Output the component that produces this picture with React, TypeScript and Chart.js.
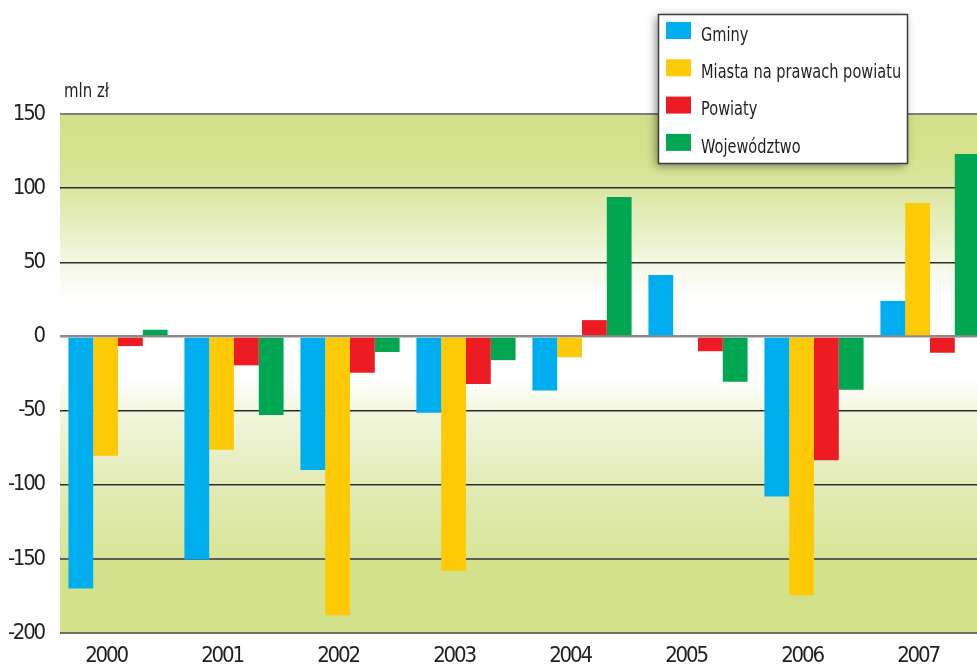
import React, { useEffect, useRef } from "react";
import { Chart, registerables } from "chart.js";

Chart.register(...registerables);

// ---- data ----
const years = ["2000", "2001", "2002", "2003", "2004", "2005", "2006", "2007"];
const seriesNames = ["Gminy", "Miasta na prawach powiatu", "Powiaty", "Województwo"];
const gminy = [-170, -150.5, -90, -51.5, -36.5, 41.5, -108, 24];
const miasta = [-80.5, -76.5, -188, -158, -14, 0, -174.5, 90];
const powiaty = [-6.5, -19.5, -24.5, -32, 11, -10, -83.5, -11];
const wojewodztwo = [4.5, -53, -10.5, -16, 94, -30.5, -36, 123];
const yMin = -200;
const yMax = 150;
const yStep = 50;
const unitLabel = "mln zł";

const seriesColors = ["#00aeef", "#fec907", "#ed1c24", "#00a651"];
const FONT = "'Liberation Sans Narrow', 'DejaVu Sans Condensed', 'Arial Narrow', sans-serif";
const TEXT = "#231f20";

const bgPlugin = {
  id: "bgGradient",
  beforeDraw(chart: any) {
    const { ctx, chartArea: a, scales } = chart;
    const y = scales.y;
    const g = ctx.createLinearGradient(0, a.top, 0, a.bottom);
    const stops: [number, string][] = [
      [150, "#d2e188"],
      [125, "#d4e28d"],
      [100, "#dae6a0"],
      [70, "#e9f0c8"],
      [45, "#f6f9ea"],
      [25, "#ffffff"],
      [-28, "#ffffff"],
      [-50, "#f2f6df"],
      [-100, "#e2ebb6"],
      [-148, "#d8e598"],
      [-152, "#d3e28a"],
      [-200, "#d3e28a"],
    ];
    const h = a.bottom - a.top;
    stops.forEach(([v, c]) => {
      const f = Math.min(1, Math.max(0, (y.getPixelForValue(v) - a.top) / h));
      g.addColorStop(f, c);
    });
    ctx.save();
    ctx.fillStyle = g;
    ctx.fillRect(a.left, a.top, a.right - a.left, h);
    ctx.restore();
    // condensed look for axis tick labels drawn by Chart.js
    (ctx as any).letterSpacing = "-2.2px";
  },
};

function drawNarrow(ctx: any, text: string, x: number, y: number, sx: number) {
  ctx.save();
  ctx.translate(x, y);
  ctx.scale(sx, 1);
  ctx.fillText(text, 0, 0);
  ctx.restore();
}

const overlayPlugin = {
  id: "overlay",
  afterDraw(chart: any) {
    const { ctx, chartArea: a } = chart;
    ctx.save();
    (ctx as any).letterSpacing = "0px";
    // unit label
    ctx.fillStyle = TEXT;
    ctx.font = `20px ${FONT}`;
    ctx.textBaseline = "alphabetic";
    ctx.textAlign = "left";
    drawNarrow(ctx, unitLabel, a.left + 4, 97, 0.83);

    // legend box
    const bx = 658, by = 14, bw = 249, bh = 149;
    ctx.shadowColor = "rgba(0,0,0,0.45)";
    ctx.shadowBlur = 9;
    ctx.shadowOffsetX = -2;
    ctx.shadowOffsetY = 3;
    ctx.fillStyle = "#ffffff";
    ctx.fillRect(bx, by, bw, bh);
    ctx.shadowColor = "transparent";
    ctx.shadowBlur = 0;
    ctx.shadowOffsetX = 0;
    ctx.shadowOffsetY = 0;
    ctx.strokeStyle = "#3d3d3d";
    ctx.lineWidth = 1.5;
    ctx.strokeRect(bx + 0.5, by + 0.5, bw, bh);

    chart.data.datasets.forEach((ds: any, i: number) => {
      const rowY = by + 8 + i * 37.3;
      ctx.fillStyle = ds.backgroundColor;
      ctx.fillRect(bx + 8, rowY, 25, 17);
      ctx.fillStyle = TEXT;
      ctx.font = `20px ${FONT}`;
      drawNarrow(ctx, ds.label, bx + 43, rowY + 18.7, 0.81);
    });
    ctx.restore();
  },
};

function gridStyle(v: number): { color: string; width: number } {
  if (v === 0) return { color: "#8c8c8c", width: 2.5 };
  if (v === yMax) return { color: "#7d7d7d", width: 2 };
  if (v === yMin) return { color: "#6e6e6e", width: 2 };
  if (v === -150) return { color: "#5e5e5e", width: 2 };
  return { color: "#2e2e2e", width: 1.5 };
}

export default function App() {
  const ref = useRef<HTMLCanvasElement | null>(null);

  useEffect(() => {
    if (!ref.current) return;
    const values = [gminy, miasta, powiaty, wojewodztwo];
    const chart = new Chart(ref.current, {
      type: "bar",
      data: {
        labels: years,
        datasets: seriesNames.map((name, i) => ({
          label: name,
          data: values[i],
          backgroundColor: seriesColors[i],
          borderWidth: 0,
          categoryPercentage: 0.855,
          barPercentage: 1,
        })),
      },
      options: {
        responsive: false,
        animation: false,
        devicePixelRatio: 1,
        layout: { padding: { top: 114, right: 2, left: 0, bottom: 0 } },
        plugins: {
          legend: { display: false },
          tooltip: { enabled: false },
          title: { display: false },
        },
        scales: {
          x: {
            grid: { display: false, drawTicks: false },
            border: { display: false },
            ticks: {
              color: TEXT,
              font: { family: FONT, size: 22 },
              padding: 10,
              labelOffset: -12,
              maxRotation: 0,
            },
            afterFit: (s: any) => {
              s.height = 35;
            },
          },
          y: {
            min: yMin,
            max: yMax,
            border: { display: false },
            grid: {
              drawTicks: false,
              color: (c: any) => gridStyle(c.tick.value).color,
              lineWidth: (c: any) => gridStyle(c.tick.value).width,
            },
            ticks: {
              stepSize: yStep,
              color: TEXT,
              font: { family: FONT, size: 22 },
              padding: 16,
            },
            afterFit: (s: any) => {
              s.width = 60;
            },
          },
        },
      },
      plugins: [bgPlugin, overlayPlugin],
    });
    return () => chart.destroy();
  }, []);

  return (
    <div
      style={{
        position: "fixed",
        left: 0,
        top: 0,
        width: 977,
        height: 668,
        overflow: "hidden",
        background: "#ffffff",
      }}
    >
      <canvas ref={ref} width={990} height={668} style={{ display: "block" }} />
    </div>
  );
}
